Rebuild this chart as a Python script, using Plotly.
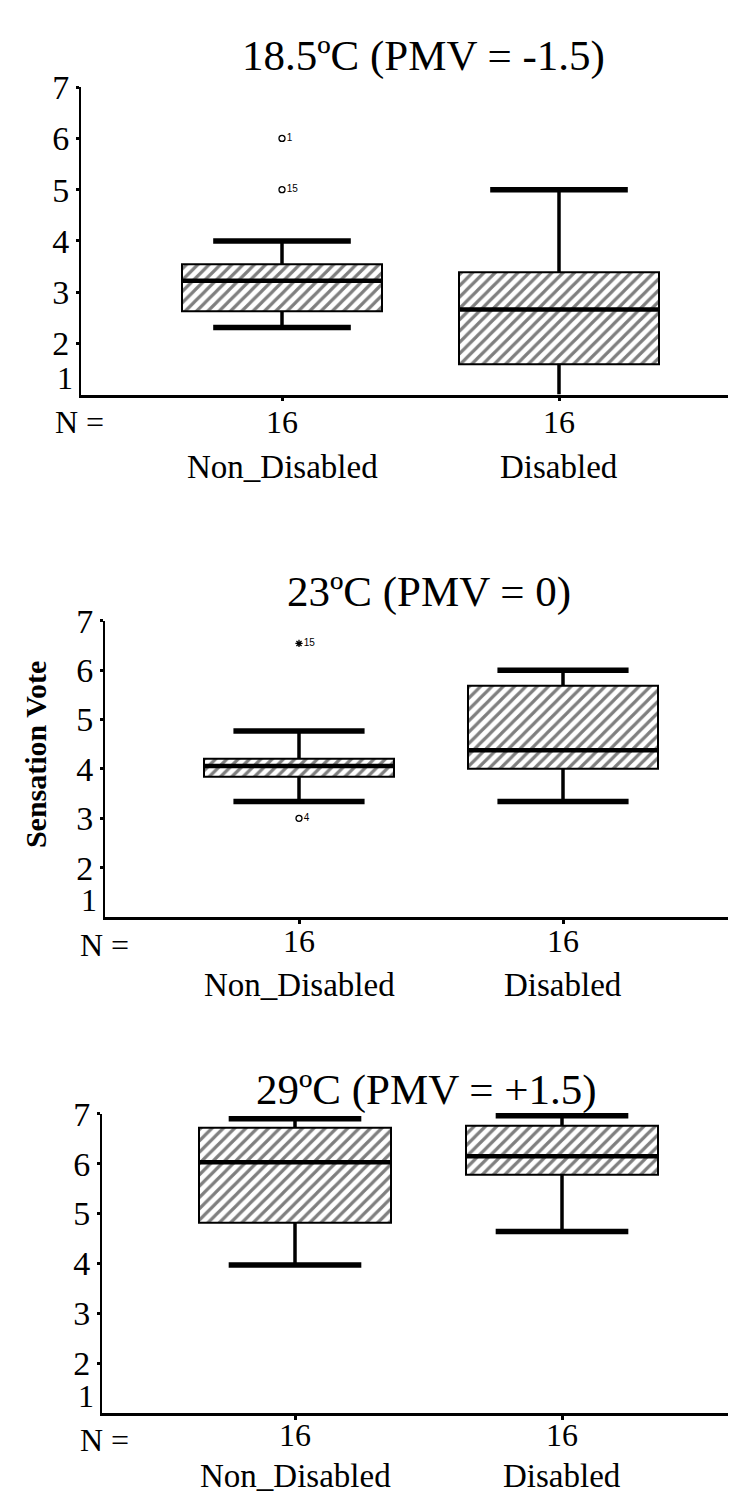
import plotly.graph_objects as go

# ---------------- data ----------------
groups = ["Non_Disabled", "Disabled"]
group_pos = [1, 2]
n_counts = [16, 16]
titles = ["18.5ºC (PMV = -1.5)", "23ºC (PMV = 0)", "29ºC (PMV = +1.5)"]

# 18.5 C panel  [Non_Disabled, Disabled]
lower_185 = [2.31, 1.00]
q1_185 = [2.62, 1.60]
median_185 = [3.22, 2.66]
q3_185 = [3.54, 3.39]
upper_185 = [4.00, 5.00]
out_185_group = [1, 1]
out_185_value = [6.0, 5.0]
out_185_label = ["1", "15"]
out_185_symbol = ["circle-open", "circle-open"]

# 23 C panel
lower_23 = [3.34, 3.34]
q1_23 = [3.84, 4.00]
median_23 = [4.06, 4.38]
q3_23 = [4.21, 5.68]
upper_23 = [4.77, 6.00]
out_23_group = [1, 1]
out_23_value = [6.54, 3.00]
out_23_label = ["15", "4"]
out_23_symbol = ["asterisk-open", "circle-open"]

# 29 C panel
lower_29 = [3.97, 4.64]
q1_29 = [4.82, 5.77]
median_29 = [6.03, 6.15]
q3_29 = [6.72, 6.76]
upper_29 = [6.90, 6.96]
out_29_group = []
out_29_value = []
out_29_label = []
out_29_symbol = []

y_ticks = [1, 2, 3, 4, 5, 6, 7]
y_tick_text = ["1", "2", "3", "4", "5", "6", "7"]
Y_MIN, Y_MAX = 1, 7

# ---------------- layout geometry (pixels) ----------------
W, H = 736, 1494
BOX_W = 0.72       # box width in axis units
CAP_FRAC = 0.69    # cap width relative to box width

panels = [
    dict(x0=73, y_top=62, y_bot=373, c1=274, c2=551, tx=416, ty=30,
         ny=401, sy=401, cy=446, nx=71),
    dict(x0=97, y_top=602, y_bot=902, c1=291, c2=555, tx=421, ty=573,
         ny=930, sy=926, cy=971, nx=96),
    dict(x0=94, y_top=1101, y_bot=1404, c1=287, c2=554, tx=419, ty=1077,
         ny=1431, sy=1426, cy=1468, nx=96),
]

stats = [
    (lower_185, q1_185, median_185, q3_185, upper_185,
     out_185_group, out_185_value, out_185_label, out_185_symbol),
    (lower_23, q1_23, median_23, q3_23, upper_23,
     out_23_group, out_23_value, out_23_label, out_23_symbol),
    (lower_29, q1_29, median_29, q3_29, upper_29,
     out_29_group, out_29_value, out_29_label, out_29_symbol),
]

SERIF = "Liberation Serif, Times New Roman, serif"


def py(px):
    return 1 - px / H


fig = go.Figure()
annotations = []

for i, (p, st) in enumerate(zip(panels, stats)):
    lo_w, q1, med, q3, up_w, og, ov, ol, osym = st
    k = "" if i == 0 else str(i + 1)
    xref, yref = "x" + k, "y" + k
    unit = p["c2"] - p["c1"]
    box_px = BOX_W * unit
    cap_px = CAP_FRAC * box_px

    # hatched box
    fig.add_trace(go.Bar(
        x=group_pos, y=[b - a for a, b in zip(q1, q3)], base=q1, width=BOX_W,
        marker=dict(color="white", line=dict(color="black", width=2),
                    pattern=dict(shape="/", fgcolor="black", bgcolor="white",
                                 size=8, solidity=0.4)),
        xaxis=xref, yaxis=yref, hoverinfo="skip"))

    # whisker stems
    sx, sy = [], []
    for g, a, b, c, d in zip(group_pos, lo_w, q1, q3, up_w):
        sx += [g, g, None, g, g, None]
        sy += [c, d, None, a, b, None]
    fig.add_trace(go.Scatter(x=sx, y=sy, mode="lines",
                             line=dict(color="black", width=3.5),
                             xaxis=xref, yaxis=yref, cliponaxis=True, hoverinfo="skip"))

    # whisker caps (a cap lying on the axis floor is hidden by the axis, as in the reference)
    cap_x, cap_y = [], []
    for g, v in zip(group_pos + group_pos, lo_w + up_w):
        if v > Y_MIN:
            cap_x.append(g)
            cap_y.append(v)
    fig.add_trace(go.Scatter(
        x=cap_x, y=cap_y, mode="markers",
        marker=dict(symbol="line-ew", size=cap_px / 1.4,
                    line=dict(color="black", width=5.5)),
        xaxis=xref, yaxis=yref, cliponaxis=False, hoverinfo="skip"))

    # medians
    fig.add_trace(go.Scatter(
        x=group_pos, y=med, mode="markers",
        marker=dict(symbol="line-ew", size=box_px / 1.4,
                    line=dict(color="black", width=4.5)),
        xaxis=xref, yaxis=yref, cliponaxis=False, hoverinfo="skip"))

    # outliers
    if ov:
        fig.add_trace(go.Scatter(
            x=og, y=ov, mode="markers+text", text=ol, textposition="middle right",
            textfont=dict(family="Arial", size=10, color="black"),
            marker=dict(symbol=osym, size=6, color="black",
                        line=dict(color="black", width=1.3)),
            xaxis=xref, yaxis=yref, cliponaxis=False, hoverinfo="skip"))

    lo = 1 - (p["c1"] - p["x0"]) / unit
    hi = lo + (W - p["x0"]) / unit

    fig.layout["xaxis" + k] = dict(
        domain=[p["x0"] / W, 1], range=[lo, hi], anchor=yref,
        showline=True, linecolor="black", linewidth=2.5,
        tickvals=group_pos, ticks="outside", ticklen=4, tickwidth=3, tickcolor="black",
        showticklabels=False, showgrid=False, zeroline=False, fixedrange=True)
    # the lowest label sits a little above its tick in the reference,
    # so it is drawn as an annotation instead
    fig.layout["yaxis" + k] = dict(
        domain=[py(p["y_bot"]), py(p["y_top"])], range=[Y_MIN, Y_MAX], anchor=xref,
        showline=True, linecolor="black", linewidth=2,
        tickvals=y_ticks[1:], ticktext=y_tick_text[1:],
        ticks="outside", ticklen=3, tickwidth=3, tickcolor="black",
        tickfont=dict(family=SERIF, size=34, color="black"),
        showgrid=False, zeroline=False, fixedrange=True)
    annotations.append(dict(text=y_tick_text[0], x=p["x0"] / W, xshift=-6,
                            y=y_ticks[0], yref=yref, xref="paper", yshift=17,
                            showarrow=False, xanchor="right", yanchor="middle",
                            font=dict(family=SERIF, size=32, color="black")))

    # title
    annotations.append(dict(text=titles[i], x=p["tx"] / W, y=py(p["ty"]),
                            xref="paper", yref="paper", showarrow=False,
                            xanchor="center", yanchor="middle",
                            font=dict(family=SERIF, size=43, color="black")))
    # N =
    annotations.append(dict(text="N =", x=p["nx"] / W, y=py(p["ny"]),
                            xref="paper", yref="paper", showarrow=False,
                            xanchor="center", yanchor="middle",
                            font=dict(family=SERIF, size=32, color="black")))
    for g, name, n in zip(group_pos, groups, n_counts):
        annotations.append(dict(text=str(n), x=g, y=py(p["sy"]),
                                xref=xref, yref="paper", showarrow=False,
                                xanchor="center", yanchor="middle",
                                font=dict(family=SERIF, size=32, color="black")))
        annotations.append(dict(text=name, x=g, y=py(p["cy"]),
                                xref=xref, yref="paper", showarrow=False,
                                xanchor="center", yanchor="middle",
                                font=dict(family=SERIF, size=33, color="black")))

annotations.append(dict(text="<b>Sensation Vote</b>", x=27 / W, y=py(737),
                        xref="paper", yref="paper", showarrow=False, textangle=-90,
                        xanchor="center", yanchor="middle",
                        font=dict(family=SERIF, size=30, color="black")))

fig.update_layout(
    width=W, height=H, margin=dict(l=0, r=0, t=0, b=0),
    paper_bgcolor="white", plot_bgcolor="white",
    showlegend=False, annotations=annotations, bargap=0,
)

fig.write_html("out.html")
